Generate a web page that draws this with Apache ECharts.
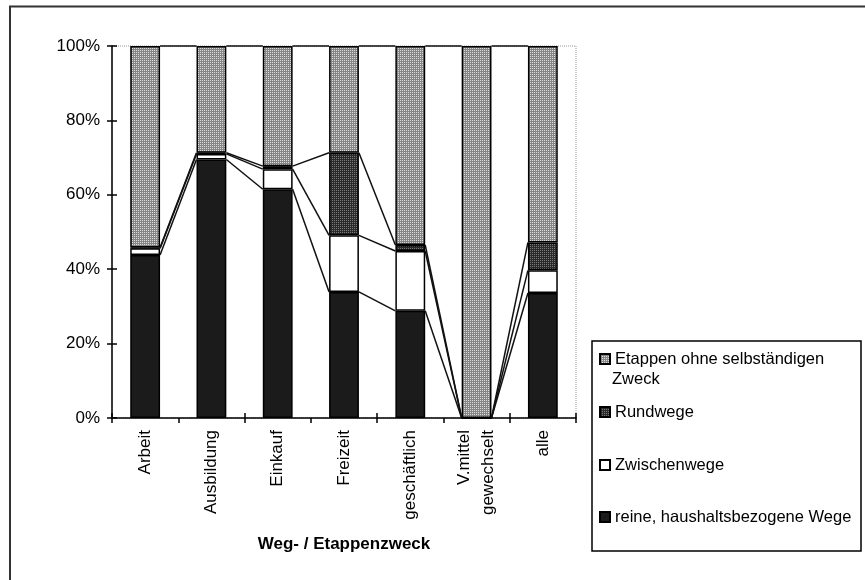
<!DOCTYPE html>
<html>
<head>
<meta charset="utf-8">
<script src="https://cdn.jsdelivr.net/npm/echarts@6/dist/echarts.min.js"></script>
<style>
html,body{margin:0;padding:0;background:#fff;}
#chart{width:865px;height:580px;}
</style>
</head>
<body>
<div id="chart"></div>
<script>
const categories = ['Arbeit', 'Ausbildung', 'Einkauf', 'Freizeit', 'geschäftlich', 'V.mittel\ngewechselt', 'alle'];
const reine = [43.8, 69.5, 61.5, 33.9, 28.8, 0, 33.6];
const zwischen = [1.8, 1.5, 5.4, 15.2, 16.1, 0, 6.1];
const rund = [0.2, 0.3, 0.8, 22.2, 1.6, 0, 7.5];
const etappen = [54.2, 28.7, 32.3, 28.7, 53.5, 100, 52.8];
const yTicks = [0, 20, 40, 60, 80, 100];
const seriesNames = ['reine, haushaltsbezogene Wege', 'Zwischenwege', 'Rundwege', 'Etappen ohne selbständigen Zweck'];
const xTitle = 'Weg- / Etappenzweck';

const FONT = '"Liberation Sans", Arial, sans-serif';
const FS = 17;
const LFS = 16.5;

function makePattern(light, dark) {
  const c = document.createElement('canvas');
  c.width = 2; c.height = 2;
  const g = c.getContext('2d');
  g.fillStyle = dark; g.fillRect(0, 0, 2, 2);
  g.fillStyle = light; g.fillRect(0, 0, 1, 1);
  return { image: c, repeat: 'repeat' };
}
const etappenFill = makePattern('#dedede', '#858585');
const rundFill = makePattern('#7a7a7a', '#2a2a2a');
const reineFill = '#1b1b1b';
const zwischenFill = '#ffffff';

const stacks = [reine, zwischen, rund, etappen];
const cum = categories.map((_, i) => {
  let s = 0;
  return stacks.map(a => (s += a[i]));
});

const chart = echarts.init(document.getElementById('chart'), null, { renderer: 'canvas' });

const barBase = {
  type: 'bar', stack: 'total', barWidth: '45%', xAxisIndex: 0, yAxisIndex: 0,
  emphasis: { disabled: true }
};

const legendTextStyle = { fontFamily: FONT, fontSize: LFS, color: '#000', lineHeight: 18 };
function legendAt(name, top, fmt) {
  return {
    data: [name], left: 594, top: top, itemWidth: 10, itemHeight: 10, itemGap: 0,
    icon: 'rect', selectedMode: false, textStyle: legendTextStyle,
    formatter: fmt || (n => n)
  };
}

chart.setOption({
  animation: false,
  backgroundColor: '#fff',
  textStyle: { fontFamily: FONT },
  grid: { left: 112, right: 289, top: 46, bottom: 162, show: true, borderColor: '#999', borderWidth: 1, borderType: 'dotted', backgroundColor: 'transparent' },
  xAxis: [{
    type: 'category', data: categories, boundaryGap: true,
    axisLine: { lineStyle: { color: '#000', width: 1.5 } },
    axisTick: { show: true, inside: false, length: 5, lineStyle: { color: '#000', width: 1.5 } },
    axisLabel: { rotate: 90, margin: 12, fontSize: FS, color: '#000', fontFamily: FONT, lineHeight: 24 },
    name: xTitle, nameLocation: 'middle', nameGap: 118,
    nameTextStyle: { fontFamily: FONT, fontSize: FS, fontWeight: 'bold', color: '#000' }
  }, {
    type: 'category', data: categories, boundaryGap: true, position: 'bottom',
    axisLine: { show: false },
    axisTick: { show: true, inside: true, length: 5, lineStyle: { color: '#000', width: 1.5 } },
    axisLabel: { show: false }
  }],
  yAxis: [{
    type: 'value', min: 0, max: 100, interval: 20,
    axisLine: { show: true, lineStyle: { color: '#000', width: 1.5 } },
    axisTick: { show: true, length: 5, lineStyle: { color: '#000', width: 1.5 } },
    splitLine: { show: false },
    axisLabel: { margin: 12, fontSize: FS, color: '#000', fontFamily: FONT, formatter: v => yTicks.includes(v) ? v + '%' : '' }
  }, {
    type: 'value', min: 0, max: 100, interval: 20, position: 'left',
    axisLine: { show: false },
    axisTick: { show: true, inside: true, length: 5, lineStyle: { color: '#000', width: 1.5 } },
    splitLine: { show: false },
    axisLabel: { show: false }
  }],
  legend: [
    legendAt(seriesNames[3], 345, () => 'Etappen ohne selbständigen'),
    legendAt(seriesNames[2], 398),
    legendAt(seriesNames[1], 451),
    legendAt(seriesNames[0], 503)
  ],
  series: [
    Object.assign({}, barBase, { name: seriesNames[0], data: reine, itemStyle: { color: reineFill, borderColor: '#000', borderWidth: 1.5 } }),
    Object.assign({}, barBase, { name: seriesNames[1], data: zwischen, itemStyle: { color: zwischenFill, borderColor: '#000', borderWidth: 1.5 } }),
    Object.assign({}, barBase, { name: seriesNames[2], data: rund, itemStyle: { color: rundFill, borderColor: '#000', borderWidth: 1.5 } }),
    Object.assign({}, barBase, { name: seriesNames[3], data: etappen, itemStyle: { color: etappenFill, borderColor: '#000', borderWidth: 1.5 } }),
    {
      type: 'custom', name: 'Reihenlinien', silent: true, z: 5,
      xAxisIndex: 0, yAxisIndex: 0,
      data: categories.slice(0, -1).map((_, i) => [i, 0]),
      encode: { x: 0, y: 1 },
      renderItem: function (params, api) {
        const i = api.value(0);
        const half = api.size([1, 0])[0] * 0.45 / 2;
        const children = [];
        for (let k = 0; k < 4; k++) {
          const p0 = api.coord([i, cum[i][k]]);
          const p1 = api.coord([i + 1, cum[i + 1][k]]);
          children.push({
            type: 'line',
            shape: { x1: p0[0] + half, y1: p0[1], x2: p1[0] - half, y2: p1[1] },
            style: { stroke: '#111', lineWidth: 1.5 }
          });
        }
        return { type: 'group', children: children };
      }
    }
  ],
  graphic: [
    { type: 'rect', shape: { x: 10, y: 6.5, width: 900, height: 700 }, style: { fill: 'none', stroke: '#333', lineWidth: 2 }, silent: true },
    { type: 'rect', shape: { x: 592, y: 341, width: 269, height: 210 }, style: { fill: 'none', stroke: '#000', lineWidth: 1.5 }, silent: true },
    { type: 'text', left: 612, top: 371, style: { text: 'Zweck', font: LFS + 'px ' + FONT, fill: '#000' }, silent: true }
  ]
});
</script>
</body>
</html>
